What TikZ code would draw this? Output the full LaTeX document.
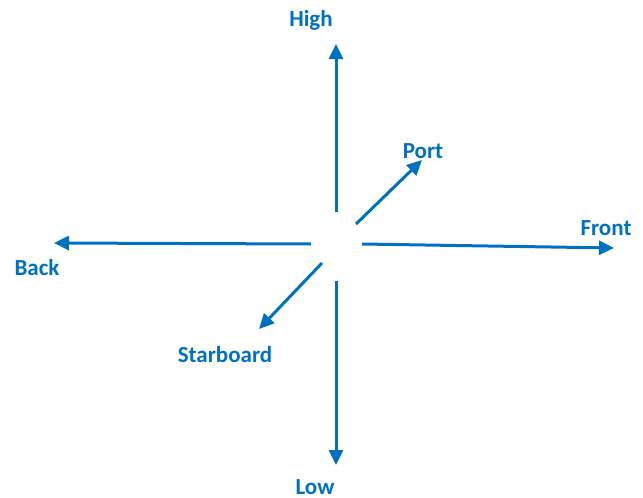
\documentclass[tikz,border=0pt]{standalone}
\usepackage{fontspec}
\setmainfont{Carlito}
\usepackage{tikz}
\usetikzlibrary{arrows.meta, positioning}
\definecolor{axisblue}{HTML}{0070C0}

\begin{document}
\begin{tikzpicture}[
  x=1pt, y=-1pt,
  axarr/.style={-{Triangle[length=15pt, width=14pt]}, draw=axisblue,
                line width=3pt},
  axlbl/.style={font=\fontsize{23}{26}\selectfont\bfseries, text=axisblue,
                inner sep=0pt}
]
\useasboundingbox (0,0) rectangle (643,498);

% ---------------------------------------------- inner ends round the centre
\coordinate (upfoot)    at (336,212);
\coordinate (downfoot)  at (336,281);
\coordinate (backfoot)  at (311,244);
\coordinate (frontfoot) at (362,244);
\coordinate (portfoot)  at (356,224);
\coordinate (starfoot)  at (322,263);

% ---------------------------------------------- arrow tips
\coordinate (hightip)  at (336,44);
\coordinate (lowtip)   at (336,465);
\coordinate (backtip)  at (54,243);
\coordinate (fronttip) at (614,248);
\coordinate (porttip)  at (422,160);
\coordinate (startip)  at (259,329);

% ---------------------------------------------- the six directions
\draw[axarr] (upfoot) -- (hightip);
\draw[axarr] (downfoot) -- (lowtip);
\draw[axarr] (backfoot) -- (backtip);
\draw[axarr] (frontfoot) -- (fronttip);
\draw[axarr] (portfoot) -- (porttip);
\draw[axarr] (starfoot) -- (startip);

% ---------------------------------------------- labels
\node[axlbl] (high)  at (311,20)  {High};
\node[axlbl] (low)   at (315,487) {Low};
\node[axlbl] (back)  at (37,268)  {Back};
\node[axlbl] (front) at (606,228) {Front};
\node[axlbl] (port)  at (423,151) {Port};
\node[axlbl] (star)  at (225,355) {Starboard};

\end{tikzpicture}
\end{document}
